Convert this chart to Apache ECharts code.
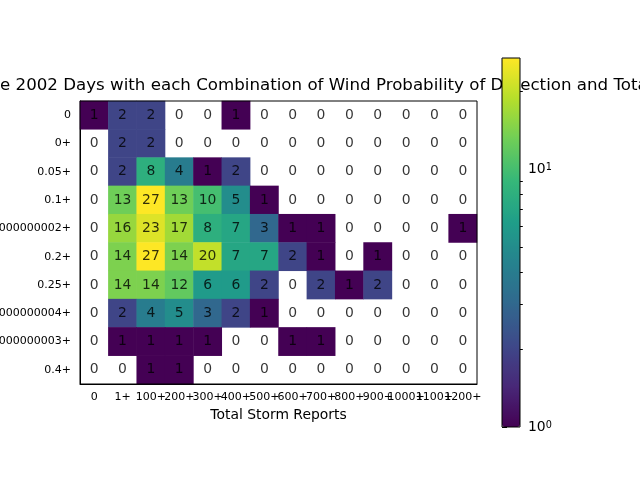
<!DOCTYPE html>
<html>
<head>
<meta charset="utf-8">
<script src="https://cdn.jsdelivr.net/npm/echarts@6/dist/echarts.min.js"></script>
<style>
  html, body { margin: 0; background: #fff; }
  #chart { width: 640px; height: 480px; }
</style>
</head>
<body>
<div id="chart"></div>
<script>
// x categories: total storm reports
const stormBins = ['0', '1+', '100+', '200+', '300+', '400+', '500+', '600+', '700+', '800+', '900+', '1000+', '1100+', '1200+']
// y categories: wind probability of detection
const podBins = ['0', '0+', '0.05+', '0.1+', '0.15000000000000002+', '0.2+', '0.25+', '0.30000000000000004+', '0.35000000000000003+', '0.4+']

// one row per podBins entry, one column per stormBins entry
const dayCounts = [
  [1, 2, 2, 0, 0, 1, 0, 0, 0, 0, 0, 0, 0, 0],
  [0, 2, 2, 0, 0, 0, 0, 0, 0, 0, 0, 0, 0, 0],
  [0, 2, 8, 4, 1, 2, 0, 0, 0, 0, 0, 0, 0, 0],
  [0, 13, 27, 13, 10, 5, 1, 0, 0, 0, 0, 0, 0, 0],
  [0, 16, 23, 17, 8, 7, 3, 1, 1, 0, 0, 0, 0, 1],
  [0, 14, 27, 14, 20, 7, 7, 2, 1, 0, 1, 0, 0, 0],
  [0, 14, 14, 12, 6, 6, 2, 0, 2, 1, 2, 0, 0, 0],
  [0, 2, 4, 5, 3, 2, 1, 0, 0, 0, 0, 0, 0, 0],
  [0, 1, 1, 1, 1, 0, 0, 1, 1, 0, 0, 0, 0, 0],
  [0, 0, 1, 1, 0, 0, 0, 0, 0, 0, 0, 0, 0, 0],
]

// colorbar ticks (log scale)
const colorMajorTicks = [1, 10]
const colorMinorTicks = [2, 3, 4, 5, 6, 7, 8, 9, 20]

const viridis = ['#440154', '#482878', '#3e4989', '#31688e', '#26828e', '#1f9e89', '#35b779', '#6ece58', '#b5de2b', '#fde725']

const titlePrefix = 'Number of th'
const titleText = titlePrefix + 'e 2002 Days with each Combination of Wind Probability of Detection and Total Storm Reports'

const FONT = 'DejaVu Sans'
const maxCount = Math.max(...dayCounts.flat())
const logMax = Math.log10(maxCount)

// coloured cells (zeros are masked, left white) and the text of every cell
const cells = []
const cellText = []
dayCounts.forEach((row, r) => {
  row.forEach((v, c) => {
    if (v > 0) cells.push([c, r, v, Math.log10(v)])
    cellText.push([c, r, v])
  })
})

// the title is wider than the canvas, its left end is cut off like in the original
const ctx = document.createElement('canvas').getContext('2d')
ctx.font = '16.67px "' + FONT + '"'
const titleLeft = -ctx.measureText(titlePrefix).width

const chart = echarts.init(document.getElementById('chart'))

chart.setOption({
  animation: false,
  textStyle: { fontFamily: FONT },
  title: {
    text: titleText,
    left: titleLeft,
    top: 77,
    padding: 0,
    z: 1,
    textStyle: { fontFamily: FONT, fontSize: 16.67, fontWeight: 'normal', color: '#000' },
  },
  grid: [
    {
      left: 80, top: 101, width: 397, height: 283,
      outerBoundsMode: 'none', containLabel: false,
      show: true, borderColor: '#000', borderWidth: 1, backgroundColor: 'transparent', z: 3,
    },
    {
      left: 502, top: 58, width: 18, height: 369,
      outerBoundsMode: 'none', containLabel: false,
      show: true, borderColor: '#000', borderWidth: 1, backgroundColor: 'transparent', z: 20,
    },
  ],
  xAxis: [
    {
      type: 'category',
      gridIndex: 0,
      data: stormBins,
      name: 'Total Storm Reports',
      nameLocation: 'middle',
      nameGap: 24,
      nameTextStyle: { fontSize: 13.9, color: '#000' },
      axisLine: { lineStyle: { color: '#000' } },
      axisTick: { alignWithLabel: true, length: 5, lineStyle: { color: '#000' } },
      axisLabel: { interval: 0, fontSize: 11, color: '#000', margin: 8, hideOverlap: false },
      splitLine: { show: false },
    },
    { type: 'value', gridIndex: 1, show: false, min: 0, max: 1 },
  ],
  yAxis: [
    {
      type: 'category',
      gridIndex: 0,
      data: podBins,
      inverse: true,
      axisLine: { lineStyle: { color: '#000' } },
      axisTick: { alignWithLabel: true, length: 5, lineStyle: { color: '#000' } },
      axisLabel: { interval: 0, fontSize: 11, color: '#000', margin: 9 },
      splitLine: { show: false },
    },
    {
      type: 'value',
      gridIndex: 1,
      position: 'right',
      min: 0,
      max: logMax,
      axisLine: { show: false },
      splitLine: { show: false },
      axisTick: { show: true, length: 5, lineStyle: { color: '#000' }, customValues: colorMajorTicks.map(Math.log10) },
      axisLabel: {
        customValues: colorMajorTicks.map(Math.log10),
        margin: 8,
        formatter: v => '{b|10}{s|' + Math.round(v) + '}',
        rich: {
          b: { fontSize: 13.9, color: '#000', fontFamily: FONT, verticalAlign: 'bottom' },
          s: { fontSize: 9.7, color: '#000', fontFamily: FONT, verticalAlign: 'top' },
        },
      },
    },
    {
      type: 'value',
      gridIndex: 1,
      position: 'right',
      min: 0,
      max: logMax,
      axisLine: { show: false },
      splitLine: { show: false },
      axisTick: { show: true, length: 2.8, lineStyle: { color: '#000' }, customValues: colorMinorTicks.map(Math.log10) },
      axisLabel: { show: false },
    },
  ],
  visualMap: {
    type: 'continuous',
    dimension: 3,
    seriesIndex: 0,
    min: 0,
    max: logMax,
    calculable: false,
    hoverLink: false,
    left: 502,
    top: 58,
    itemWidth: 18,
    itemHeight: 369,
    padding: 0,
    z: 10,
    inRange: { color: viridis },
  },
  series: [
    {
      type: 'heatmap',
      xAxisIndex: 0,
      yAxisIndex: 0,
      data: cells,
      itemStyle: { borderWidth: 0 },
      emphasis: { disabled: true },
    },
    {
      // cell numbers, zeros included
      type: 'scatter',
      xAxisIndex: 0,
      yAxisIndex: 0,
      data: cellText,
      symbolSize: 0,
      z: 5,
      silent: true,
      label: {
        show: true,
        position: 'inside',
        formatter: p => String(p.value[2]),
        color: '#000',
        fontSize: 13.9,
        fontFamily: FONT,
      },
    },
  ],
})
</script>
</body>
</html>
